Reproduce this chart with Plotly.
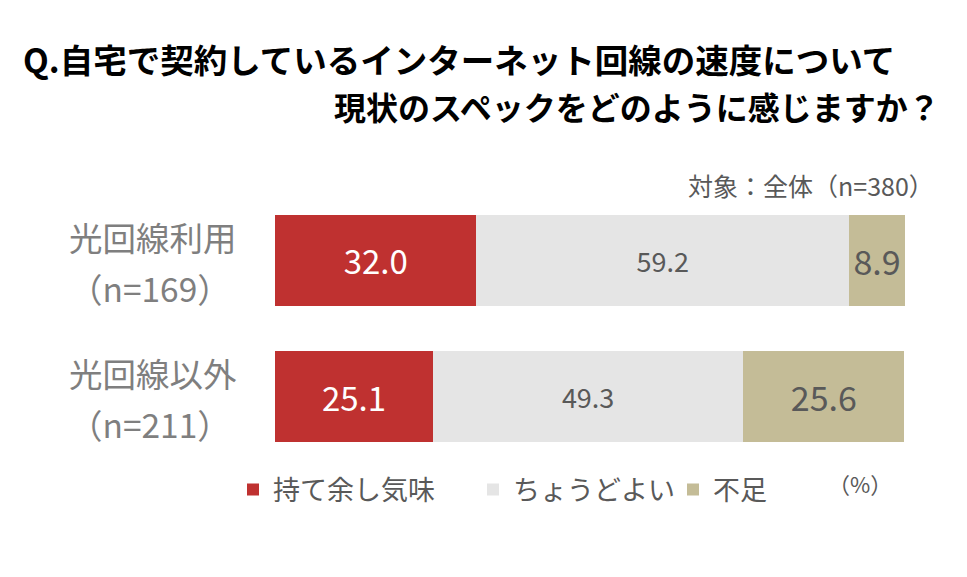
import plotly.graph_objects as go

categories = ["光回線利用", "光回線以外"]
cat_sub = ["（n=169）", "（n=211）"]
series_names = ["持て余し気味", "ちょうどよい", "不足"]
v_excess = [32.0, 25.1]
v_ok = [59.2, 49.3]
v_short = [8.9, 25.6]

title1 = "Q.自宅で契約しているインターネット回線の速度について"
title2 = "現状のスペックをどのように感じますか？"
subtitle = "対象：全体（n=380）"
unit = "（%）"

FONT = "Noto Sans CJK JP, Noto Sans, sans-serif"
colors = ["#BF3130", "#E5E5E5", "#C4BC97"]
txtcolors = ["#FFFFFF", "#595959", "#595959"]
txtsizes = [33, 27, 34]
legends = ["legend", "legend2", "legend3"]

fig = go.Figure()
for name, vals, c, tc, ts, lg in zip(series_names, [v_excess, v_ok, v_short], colors, txtcolors, txtsizes, legends):
    fig.add_trace(go.Bar(
        y=categories, x=vals, name=name, orientation="h",
        marker=dict(color=c, line=dict(width=0)),
        text=[f"{v:.1f}" for v in vals], textposition="inside",
        insidetextanchor="middle", constraintext="none",
        textfont=dict(family=FONT, size=ts, color=tc),
        legend=lg, hoverinfo="skip",
    ))

# page body has an 8px margin: screen coords -> figure coords
OFF = 8
W, H = 967 - 2 * OFF, 577 - 2 * OFF
# plot area in screen coords
SX0, SX1, SY0, SY1 = 275, 905, 192, 465
L, T = SX0 - OFF, SY0 - OFF
pw, ph = SX1 - SX0, SY1 - SY0
R, B = W - L - pw, H - T - ph

def px(x):
    return (x - SX0) / pw

def py(y):
    return (SY1 - y) / ph

annotations = [
    dict(text=title1, x=px(21), y=py(58), xref="paper", yref="paper", xanchor="left", yanchor="middle",
         showarrow=False, font=dict(family=FONT, size=33.5, color="#000000", weight="bold")),
    dict(text=title2, x=px(942), y=py(106), xref="paper", yref="paper", xanchor="right", yanchor="middle",
         showarrow=False, font=dict(family=FONT, size=32, color="#000000", weight="bold")),
    dict(text=subtitle, x=px(936), y=py(185), xref="paper", yref="paper", xanchor="right", yanchor="middle",
         showarrow=False, font=dict(family=FONT, size=25, color="#595959")),
    dict(text=unit, x=px(860), y=py(483), xref="paper", yref="paper", xanchor="center", yanchor="middle",
         showarrow=False, font=dict(family=FONT, size=22, color="#595959")),
]
for cat, sub in zip(categories, cat_sub):
    annotations.append(dict(text=cat, x=px(153), y=cat, xref="paper", yref="y", xanchor="center",
                            yanchor="middle", yshift=24, showarrow=False,
                            font=dict(family=FONT, size=33.5, color="#7F7F7F")))
    annotations.append(dict(text=sub, x=px(150), y=cat, xref="paper", yref="y", xanchor="center",
                            yanchor="middle", yshift=-27, showarrow=False,
                            font=dict(family=FONT, size=33.5, color="#7F7F7F")))

leg_common = dict(orientation="h", yanchor="middle", xanchor="left", bgcolor="rgba(0,0,0,0)",
                  font=dict(family=FONT, size=27, color="#595959"), borderwidth=0)

fig.update_layout(
    width=W, height=H,
    margin=dict(l=L, r=R, t=T, b=B),
    paper_bgcolor="white", plot_bgcolor="white",
    barmode="stack", bargap=0.333,
    showlegend=True,
    legend=dict(x=px(233), y=py(490), **leg_common),
    legend2=dict(x=px(473), y=py(490), **leg_common),
    legend3=dict(x=px(673), y=py(490), **leg_common),
    xaxis=dict(range=[0, 100.1], visible=False, fixedrange=True),
    yaxis=dict(autorange="reversed", visible=False, fixedrange=True),
    annotations=annotations,
    font=dict(family=FONT),
)

fig.write_html("out.html")
